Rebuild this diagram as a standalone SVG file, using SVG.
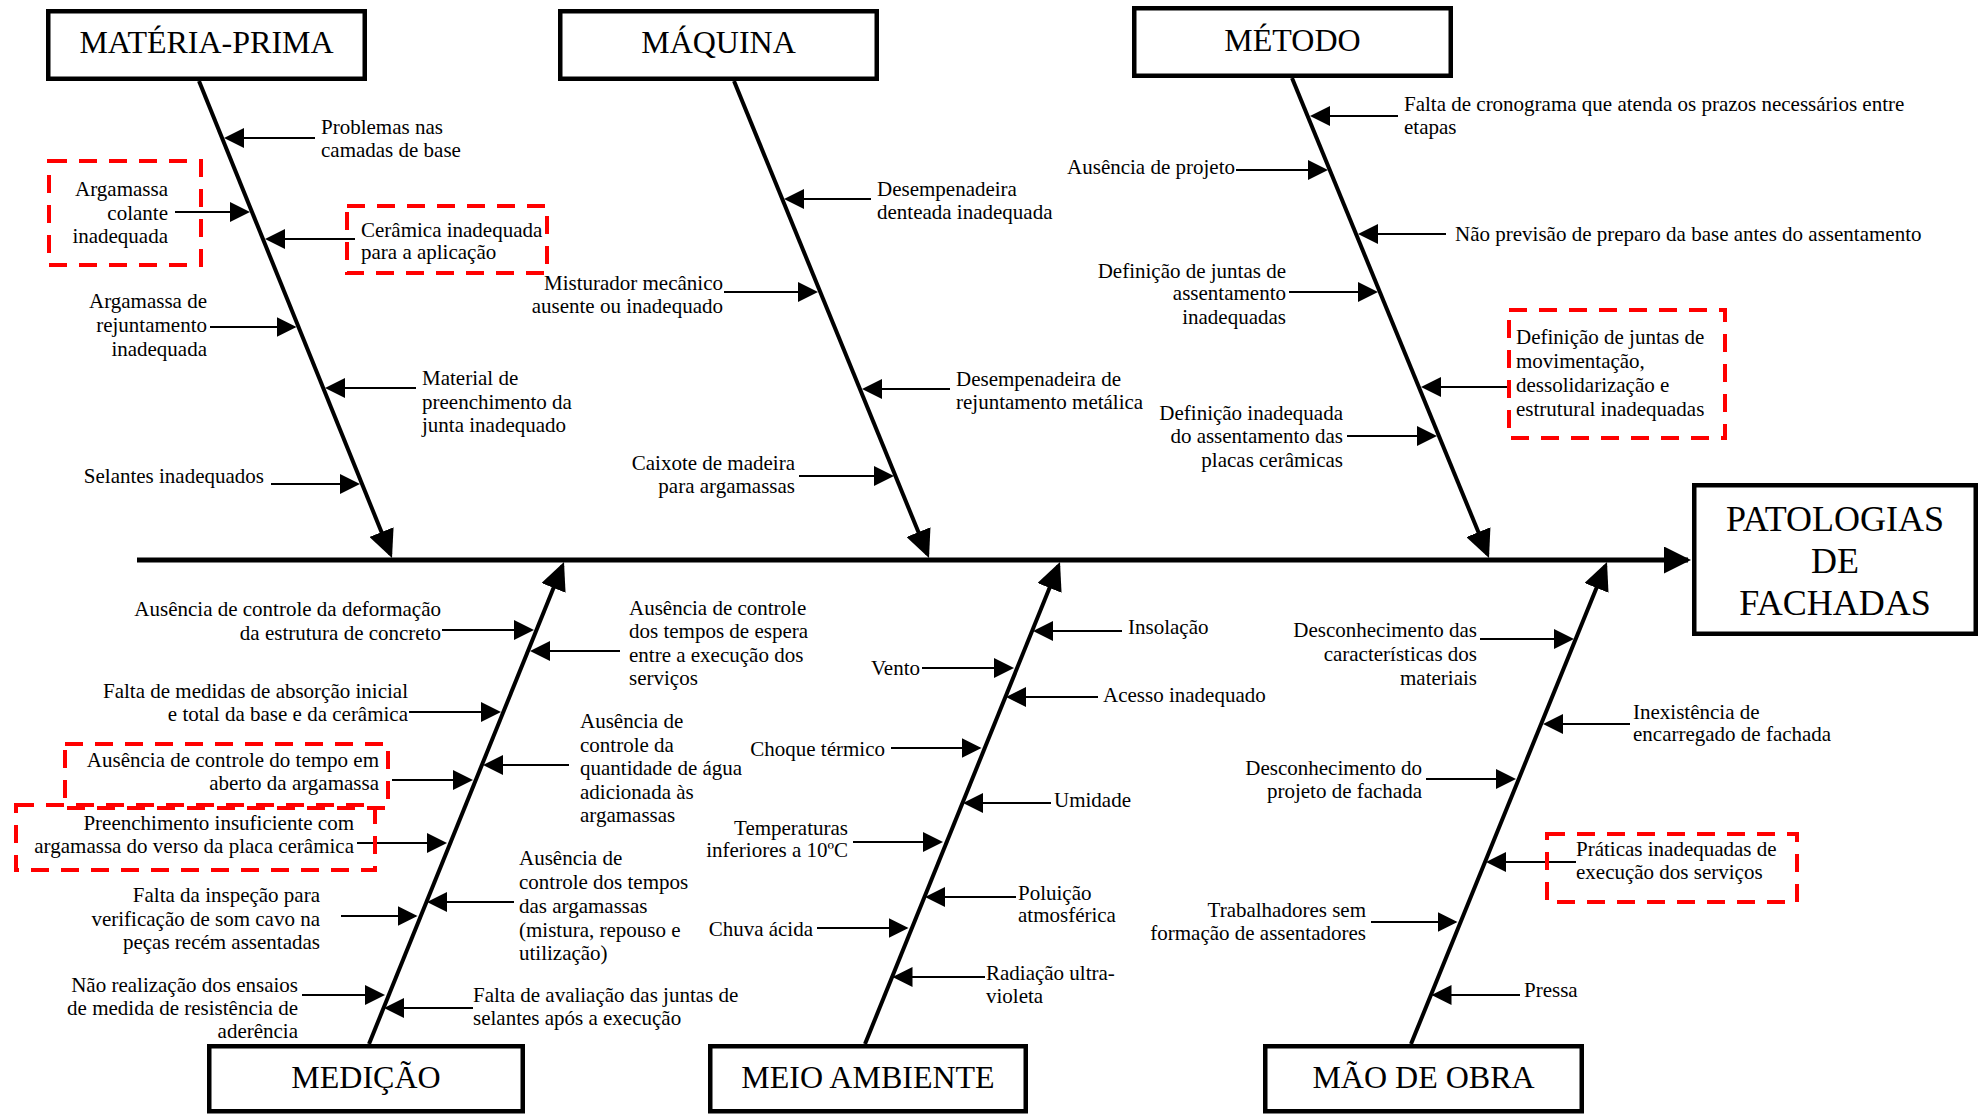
<svg xmlns="http://www.w3.org/2000/svg" width="1984" height="1115" viewBox="0 0 1984 1115">
<style>
  text { font-family: "Liberation Serif", "Times New Roman", serif; fill: #000; }
  .lbl { font-size: 21px; }
  .end { text-anchor: end; }
  .title { font-size: 32px; text-anchor: middle; }
  .effect { font-size: 36px; text-anchor: middle; }
  .box { fill: #fff; stroke: #000; stroke-width: 4.5; }
  .red { fill: none; stroke: #ff0000; stroke-width: 4; stroke-dasharray: 18 12; }
  .bone { stroke: #000; stroke-width: 4; fill: none; marker-end: url(#big); }
  .spine { stroke: #000; stroke-width: 5; fill: none; marker-end: url(#head); }
  .sub { stroke: #000; stroke-width: 2; fill: none; marker-end: url(#small); }
</style>
<defs>
  <marker id="small" markerUnits="userSpaceOnUse" markerWidth="20" markerHeight="20" refX="18" refY="10" orient="auto">
    <path d="M0,0 L20,10 L0,20 Z" fill="#000"/>
  </marker>
  <marker id="big" markerUnits="userSpaceOnUse" markerWidth="28" markerHeight="26" refX="24" refY="13" orient="auto">
    <path d="M0,0 L28,13 L0,26 Z" fill="#000"/>
  </marker>
  <marker id="head" markerUnits="userSpaceOnUse" markerWidth="27" markerHeight="27" refX="24" refY="13.5" orient="auto">
    <path d="M0,0 L27,13.5 L0,27 Z" fill="#000"/>
  </marker>
</defs>
<rect width="1984" height="1115" fill="#fff"/>

<g id="connectors">
  <line class="spine" x1="137" y1="560" x2="1688" y2="560"/>
  <line class="bone" x1="199" y1="81" x2="390.5" y2="554.3"/>
  <line class="bone" x1="734" y1="81" x2="927.5" y2="554.3"/>
  <line class="bone" x1="1292" y1="78" x2="1487.5" y2="554.3"/>
  <line class="bone" x1="369" y1="1044" x2="562.5" y2="565.7"/>
  <line class="bone" x1="865" y1="1044" x2="1058.5" y2="565.7"/>
  <line class="bone" x1="1411" y1="1044" x2="1605.5" y2="565.7"/>
  <!-- MATERIA-PRIMA -->
  <line class="sub" x1="315" y1="138" x2="226" y2="138"/>
  <line class="sub" x1="175" y1="212" x2="248" y2="212"/>
  <line class="sub" x1="355" y1="239" x2="267" y2="239"/>
  <line class="sub" x1="210" y1="327" x2="294.5" y2="327"/>
  <line class="sub" x1="416" y1="388" x2="327" y2="388"/>
  <line class="sub" x1="271" y1="484" x2="358" y2="484"/>
  <!-- MAQUINA -->
  <line class="sub" x1="871" y1="199" x2="786" y2="199"/>
  <line class="sub" x1="724" y1="292" x2="816" y2="292"/>
  <line class="sub" x1="950" y1="389" x2="864" y2="389"/>
  <line class="sub" x1="799" y1="476" x2="892" y2="476"/>
  <!-- METODO -->
  <line class="sub" x1="1398" y1="116" x2="1312" y2="116"/>
  <line class="sub" x1="1236" y1="170" x2="1326" y2="170"/>
  <line class="sub" x1="1446" y1="234" x2="1360" y2="234"/>
  <line class="sub" x1="1289" y1="292" x2="1376" y2="292"/>
  <line class="sub" x1="1507" y1="387" x2="1423" y2="387"/>
  <line class="sub" x1="1347" y1="436" x2="1435" y2="436"/>
  <!-- MEDICAO -->
  <line class="sub" x1="442" y1="630" x2="532" y2="630"/>
  <line class="sub" x1="620" y1="651" x2="532" y2="651"/>
  <line class="sub" x1="409" y1="712" x2="499" y2="712"/>
  <line class="sub" x1="569" y1="765" x2="485" y2="765"/>
  <line class="sub" x1="392" y1="780" x2="471" y2="780"/>
  <line class="sub" x1="357" y1="843" x2="445" y2="843"/>
  <line class="sub" x1="341" y1="916" x2="415.5" y2="916"/>
  <line class="sub" x1="514" y1="902" x2="429" y2="902"/>
  <line class="sub" x1="302" y1="995" x2="383" y2="995"/>
  <line class="sub" x1="473" y1="1008" x2="386" y2="1008"/>
  <!-- MEIO AMBIENTE -->
  <line class="sub" x1="1122" y1="631" x2="1035" y2="631"/>
  <line class="sub" x1="922" y1="668" x2="1012" y2="668"/>
  <line class="sub" x1="1098" y1="697" x2="1008" y2="697"/>
  <line class="sub" x1="891" y1="748" x2="979.5" y2="748"/>
  <line class="sub" x1="1051" y1="803" x2="965" y2="803"/>
  <line class="sub" x1="853" y1="842" x2="941" y2="842"/>
  <line class="sub" x1="1016" y1="897" x2="927" y2="897"/>
  <line class="sub" x1="817" y1="928" x2="906.5" y2="928"/>
  <line class="sub" x1="985" y1="977" x2="894.5" y2="977"/>
  <!-- MAO DE OBRA -->
  <line class="sub" x1="1480" y1="639" x2="1572" y2="639"/>
  <line class="sub" x1="1630" y1="724" x2="1545" y2="724"/>
  <line class="sub" x1="1426" y1="779" x2="1514" y2="779"/>
  <line class="sub" x1="1576" y1="862" x2="1488" y2="862"/>
  <line class="sub" x1="1371" y1="922" x2="1455.5" y2="922"/>
  <line class="sub" x1="1520" y1="995" x2="1433.5" y2="995"/>
</g>

<g id="effect">
  <rect class="box" x="1694.25" y="485.25" width="281.5" height="148.5"/>
  <text class="effect" x="1835" y="531">PATOLOGIAS</text>
  <text class="effect" x="1835" y="573">DE</text>
  <text class="effect" x="1835" y="615">FACHADAS</text>
</g>

<g id="materia-prima">
  <rect class="box" x="48.25" y="11.25" width="316.5" height="67.5"/>
  <text class="title" x="206.5" y="53">MATÉRIA-PRIMA</text>
  <text class="lbl"><tspan x="321" y="134">Problemas nas</tspan><tspan x="321" y="157">camadas de base</tspan></text>
  <rect class="red" x="49" y="161" width="152" height="104"/>
  <text class="lbl end"><tspan x="168" y="196">Argamassa</tspan><tspan x="168" y="220">colante</tspan><tspan x="168" y="243">inadequada</tspan></text>
  <rect class="red" x="347" y="206" width="200" height="67"/>
  <text class="lbl"><tspan x="361" y="237">Cerâmica inadequada</tspan><tspan x="361" y="259">para a aplicação</tspan></text>
  <text class="lbl end"><tspan x="207" y="308">Argamassa de</tspan><tspan x="207" y="332">rejuntamento</tspan><tspan x="207" y="356">inadequada</tspan></text>
  <text class="lbl"><tspan x="422" y="385">Material de</tspan><tspan x="422" y="409">preenchimento da</tspan><tspan x="422" y="432">junta inadequado</tspan></text>
  <text class="lbl end" x="264" y="483">Selantes inadequados</text>
</g>

<g id="maquina">
  <rect class="box" x="560.25" y="11.25" width="316.5" height="67.5"/>
  <text class="title" x="718.5" y="53">MÁQUINA</text>
  <text class="lbl"><tspan x="877" y="196">Desempenadeira</tspan><tspan x="877" y="219">denteada inadequada</tspan></text>
  <text class="lbl end"><tspan x="723" y="290">Misturador mecânico</tspan><tspan x="723" y="313">ausente ou inadequado</tspan></text>
  <text class="lbl"><tspan x="956" y="386">Desempenadeira de</tspan><tspan x="956" y="409">rejuntamento metálica</tspan></text>
  <text class="lbl end"><tspan x="795" y="470">Caixote de madeira</tspan><tspan x="795" y="493">para argamassas</tspan></text>
</g>

<g id="metodo">
  <rect class="box" x="1134.25" y="8.25" width="316.5" height="67.5"/>
  <text class="title" x="1292.5" y="51">MÉTODO</text>
  <text class="lbl"><tspan x="1404" y="111">Falta de cronograma que atenda os prazos necessários entre</tspan><tspan x="1404" y="134">etapas</tspan></text>
  <text class="lbl end" x="1235" y="174">Ausência de projeto</text>
  <text class="lbl" x="1455" y="241">Não previsão de preparo da base antes do assentamento</text>
  <text class="lbl end"><tspan x="1286" y="278">Definição de juntas de</tspan><tspan x="1286" y="300">assentamento</tspan><tspan x="1286" y="324">inadequadas</tspan></text>
  <rect class="red" x="1509" y="310" width="216" height="128"/>
  <text class="lbl"><tspan x="1516" y="344">Definição de juntas de</tspan><tspan x="1516" y="368">movimentação,</tspan><tspan x="1516" y="392">dessolidarização e</tspan><tspan x="1516" y="416">estrutural inadequadas</tspan></text>
  <text class="lbl end"><tspan x="1343" y="420">Definição inadequada</tspan><tspan x="1343" y="443">do assentamento das</tspan><tspan x="1343" y="467">placas cerâmicas</tspan></text>
</g>

<g id="medicao">
  <rect class="box" x="209.25" y="1046.25" width="313.5" height="65"/>
  <text class="title" x="366" y="1088">MEDIÇÃO</text>
  <text class="lbl end"><tspan x="441" y="616">Ausência de controle da deformação</tspan><tspan x="441" y="640">da estrutura de concreto</tspan></text>
  <text class="lbl"><tspan x="629" y="615">Ausência de controle</tspan><tspan x="629" y="638">dos tempos de espera</tspan><tspan x="629" y="662">entre a execução dos</tspan><tspan x="629" y="685">serviços</tspan></text>
  <text class="lbl end"><tspan x="408" y="698">Falta de medidas de absorção inicial</tspan><tspan x="408" y="721">e total da base e da cerâmica</tspan></text>
  <text class="lbl"><tspan x="580" y="728">Ausência de</tspan><tspan x="580" y="752">controle da</tspan><tspan x="580" y="775">quantidade de água</tspan><tspan x="580" y="799">adicionada às</tspan><tspan x="580" y="822">argamassas</tspan></text>
  <rect class="red" x="65" y="744" width="323" height="64"/>
  <text class="lbl end"><tspan x="379" y="767">Ausência de controle do tempo em</tspan><tspan x="379" y="790">aberto da argamassa</tspan></text>
  <rect class="red" x="16" y="805" width="359" height="65"/>
  <text class="lbl end"><tspan x="354" y="830">Preenchimento insuficiente com</tspan><tspan x="354" y="853">argamassa do verso da placa cerâmica</tspan></text>
  <text class="lbl end"><tspan x="320" y="902">Falta da inspeção para</tspan><tspan x="320" y="926">verificação de som cavo na</tspan><tspan x="320" y="949">peças recém assentadas</tspan></text>
  <text class="lbl"><tspan x="519" y="865">Ausência de</tspan><tspan x="519" y="889">controle dos tempos</tspan><tspan x="519" y="913">das argamassas</tspan><tspan x="519" y="937">(mistura, repouso e</tspan><tspan x="519" y="960">utilização)</tspan></text>
  <text class="lbl end"><tspan x="298" y="992">Não realização dos ensaios</tspan><tspan x="298" y="1015">de medida de resistência de</tspan><tspan x="298" y="1038">aderência</tspan></text>
  <text class="lbl"><tspan x="473" y="1002">Falta de avaliação das juntas de</tspan><tspan x="473" y="1025">selantes após a execução</tspan></text>
</g>

<g id="meio-ambiente">
  <rect class="box" x="710.25" y="1046.25" width="315.5" height="65"/>
  <text class="title" x="868" y="1088">MEIO AMBIENTE</text>
  <text class="lbl" x="1128" y="634">Insolação</text>
  <text class="lbl end" x="920" y="675">Vento</text>
  <text class="lbl" x="1103" y="702">Acesso inadequado</text>
  <text class="lbl end" x="885" y="756">Choque térmico</text>
  <text class="lbl" x="1054" y="807">Umidade</text>
  <text class="lbl end"><tspan x="848" y="835">Temperaturas</tspan><tspan x="848" y="857">inferiores a 10ºC</tspan></text>
  <text class="lbl"><tspan x="1018" y="900">Poluição</tspan><tspan x="1018" y="922">atmosférica</tspan></text>
  <text class="lbl end" x="813" y="936">Chuva ácida</text>
  <text class="lbl"><tspan x="986" y="980">Radiação ultra-</tspan><tspan x="986" y="1003">violeta</tspan></text>
</g>

<g id="mao-de-obra">
  <rect class="box" x="1265.25" y="1046.25" width="316.5" height="65"/>
  <text class="title" x="1423.5" y="1088">MÃO DE OBRA</text>
  <text class="lbl end"><tspan x="1477" y="637">Desconhecimento das</tspan><tspan x="1477" y="661">características dos</tspan><tspan x="1477" y="685">materiais</tspan></text>
  <text class="lbl"><tspan x="1633" y="719">Inexistência de</tspan><tspan x="1633" y="741">encarregado de fachada</tspan></text>
  <text class="lbl end"><tspan x="1422" y="775">Desconhecimento do</tspan><tspan x="1422" y="798">projeto de fachada</tspan></text>
  <rect class="red" x="1547" y="834" width="250" height="68"/>
  <text class="lbl"><tspan x="1576" y="856">Práticas inadequadas de</tspan><tspan x="1576" y="879">execução dos serviços</tspan></text>
  <text class="lbl end"><tspan x="1366" y="917">Trabalhadores sem</tspan><tspan x="1366" y="940">formação de assentadores</tspan></text>
  <text class="lbl" x="1524" y="997">Pressa</text>
</g>
</svg>
